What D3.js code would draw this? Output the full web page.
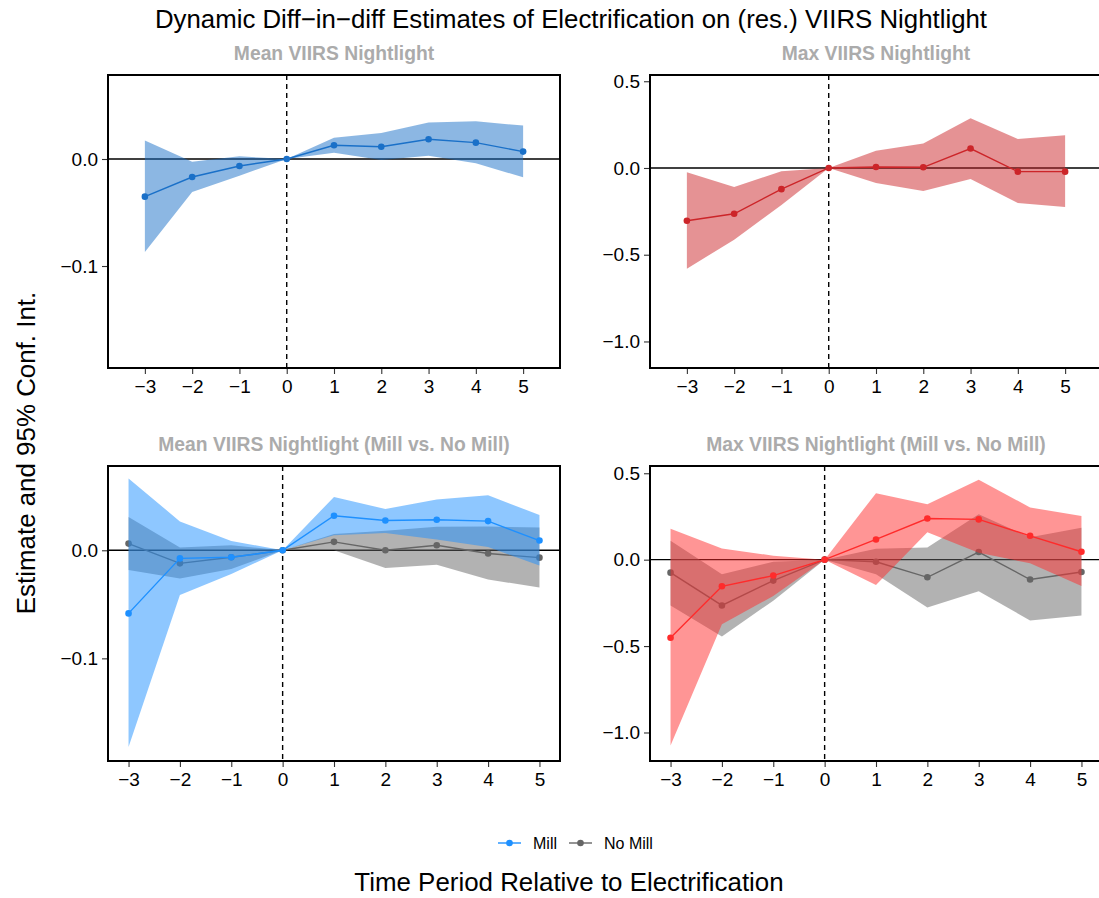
<!DOCTYPE html>
<html>
<head>
<meta charset="utf-8">
<script src="https://cdn.jsdelivr.net/npm/d3@7"></script>
<style>
  html, body { margin: 0; padding: 0; background: #fff; }
  svg { display: block; font-family: "Liberation Sans", Arial, Helvetica, sans-serif; }
</style>
</head>
<body>
<svg id="chart" width="1099" height="898"></svg>
<script>
// Event-time periods relative to electrification
const periods = [-3, -2, -1, 0, 1, 2, 3, 4, 5];

// Mean VIIRS nightlight: estimate and 95% CI
const meanEst = [-0.0352, -0.0168, -0.0065, 0, 0.0128, 0.0115, 0.0184, 0.0153, 0.0069];
const meanLo  = [-0.0869, -0.0308, -0.0156, 0, 0.0059, -0.0009, 0.0031, -0.0040, -0.0171];
const meanHi  = [0.0174, -0.0025, 0.0025, 0, 0.0199, 0.0243, 0.0340, 0.0352, 0.0312];

// Max VIIRS nightlight: estimate and 95% CI
const maxEst = [-0.304, -0.264, -0.122, 0, 0.006, 0.004, 0.112, -0.021, -0.021];
const maxLo  = [-0.581, -0.413, -0.213, 0, -0.087, -0.132, -0.064, -0.202, -0.225];
const maxHi  = [-0.025, -0.109, -0.019, 0, 0.099, 0.141, 0.287, 0.167, 0.188];

// Mean nightlight, mill villages
const millMeanEst = [-0.0584, -0.0075, -0.0065, 0, 0.0320, 0.0276, 0.0283, 0.0270, 0.0090];
const millMeanLo  = [-0.1820, -0.0413, -0.0220, 0, 0.0140, 0.0160, 0.0100, 0.0030, -0.0140];
const millMeanHi  = [0.0665, 0.0267, 0.0087, 0, 0.0494, 0.0382, 0.0470, 0.0510, 0.0326];

// Mean nightlight, no-mill villages
const noMillMeanEst = [0.0062, -0.0121, -0.0065, 0, 0.0078, 0.0000, 0.0047, -0.0030, -0.0068];
const noMillMeanLo  = [-0.0183, -0.0260, -0.0174, 0, 0.0000, -0.0165, -0.0134, -0.0270, -0.0345];
const noMillMeanHi  = [0.0307, 0.0025, 0.0047, 0, 0.0150, 0.0180, 0.0217, 0.0220, 0.0211];

// Max nightlight, mill villages
const millMaxEst = [-0.452, -0.154, -0.092, 0, 0.117, 0.238, 0.233, 0.138, 0.046];
const millMaxLo  = [-1.075, -0.373, -0.210, 0, -0.146, 0.158, 0.040, -0.021, -0.152];
const millMaxHi  = [0.179, 0.065, 0.023, 0, 0.385, 0.321, 0.463, 0.302, 0.252];

// Max nightlight, no-mill villages
const noMillMaxEst = [-0.075, -0.265, -0.121, 0, -0.012, -0.102, 0.044, -0.115, -0.071];
const noMillMaxLo  = [-0.265, -0.444, -0.237, 0, -0.085, -0.277, -0.183, -0.352, -0.323];
const noMillMaxHi  = [0.110, -0.085, -0.012, 0, 0.063, 0.071, 0.263, 0.129, 0.185];

// Tick labels
const xTicks = [-3, -2, -1, 0, 1, 2, 3, 4, 5];
const yTicksMean = [-0.1, 0.0];
const yTicksMax = [-1.0, -0.5, 0.0, 0.5];

const legendLabels = ["Mill", "No Mill"];

const svg = d3.select("#chart");

function series(est, lo, hi) {
  return periods.map((p, i) => ({ x: p, y: est[i], lo: lo[i], hi: hi[i] }));
}

const panels = [
  {
    title: "Mean VIIRS Nightlight",
    box: { left: 108, top: 75, width: 452, height: 293 },
    xDomain: [-3.78, 5.78], yDomain: [-0.1953, 0.0785], yTicks: yTicksMean, yFmt: d3.format(".1f"),
    groups: [{ data: series(meanEst, meanLo, meanHi), color: "#1A70C8" }]
  },
  {
    title: "Max VIIRS Nightlight",
    box: { left: 650, top: 75, width: 452, height: 293 },
    xDomain: [-3.78, 5.78], yDomain: [-1.153, 0.536], yTicks: yTicksMax, yFmt: d3.format(".1f"),
    groups: [{ data: series(maxEst, maxLo, maxHi), color: "#CC2529" }]
  },
  {
    title: "Mean VIIRS Nightlight (Mill vs. No Mill)",
    box: { left: 108, top: 466, width: 452, height: 295 },
    xDomain: [-3.4, 5.4], yDomain: [-0.195, 0.078], yTicks: yTicksMean, yFmt: d3.format(".1f"),
    groups: [
      { data: series(noMillMeanEst, noMillMeanLo, noMillMeanHi), color: "#666666" },
      { data: series(millMeanEst, millMeanLo, millMeanHi), color: "#1E90FF" }
    ]
  },
  {
    title: "Max VIIRS Nightlight (Mill vs. No Mill)",
    box: { left: 650, top: 466, width: 452, height: 295 },
    xDomain: [-3.4, 5.4], yDomain: [-1.165, 0.542], yTicks: yTicksMax, yFmt: d3.format(".1f"),
    groups: [
      { data: series(noMillMaxEst, noMillMaxLo, noMillMaxHi), color: "#666666" },
      { data: series(millMaxEst, millMaxLo, millMaxHi), color: "#FF2B2B" }
    ]
  }
];

panels.forEach((p, idx) => {
  const b = p.box;
  const x = d3.scaleLinear().domain(p.xDomain).range([b.left, b.left + b.width]);
  const y = d3.scaleLinear().domain(p.yDomain).range([b.top + b.height, b.top]);

  const clipId = "clip" + idx;
  svg.append("clipPath").attr("id", clipId)
    .append("rect").attr("x", b.left).attr("y", b.top).attr("width", b.width).attr("height", b.height);

  const g = svg.append("g").attr("clip-path", `url(#${clipId})`);

  // reference lines at zero
  g.append("line")
    .attr("x1", b.left).attr("x2", b.left + b.width)
    .attr("y1", y(0)).attr("y2", y(0))
    .attr("stroke", "#000").attr("stroke-width", 1.4);
  g.append("line")
    .attr("x1", x(0)).attr("x2", x(0))
    .attr("y1", b.top).attr("y2", b.top + b.height)
    .attr("stroke", "#000").attr("stroke-width", 1.4)
    .attr("stroke-dasharray", "5,4");

  const area = d3.area().x(d => x(d.x)).y0(d => y(d.lo)).y1(d => y(d.hi));
  const line = d3.line().x(d => x(d.x)).y(d => y(d.y));

  p.groups.forEach(grp => {
    g.append("path").datum(grp.data)
      .attr("d", area).attr("fill", grp.color).attr("fill-opacity", 0.5);
    g.append("path").datum(grp.data)
      .attr("d", line).attr("fill", "none").attr("stroke", grp.color).attr("stroke-width", 1.4);
    g.selectAll(null).data(grp.data).enter().append("circle")
      .attr("cx", d => x(d.x)).attr("cy", d => y(d.y)).attr("r", 3.3)
      .attr("fill", grp.color);
  });

  // panel border
  svg.append("rect")
    .attr("x", b.left).attr("y", b.top).attr("width", b.width).attr("height", b.height)
    .attr("fill", "none").attr("stroke", "#000").attr("stroke-width", 2);

  // axes
  const xAxis = d3.axisBottom(x).tickValues(xTicks).tickSize(5).tickPadding(6)
    .tickFormat(d3.format("d"));
  const gx = svg.append("g").attr("transform", `translate(0,${b.top + b.height + 1})`).call(xAxis);
  gx.select(".domain").remove();
  gx.selectAll(".tick line").attr("stroke", "#333").attr("stroke-width", 1.1);
  gx.selectAll(".tick text").attr("fill", "#000").style("font-size", "19px");

  const yAxis = d3.axisLeft(y).tickValues(p.yTicks).tickSize(5).tickPadding(4)
    .tickFormat(p.yFmt);
  const gy = svg.append("g").attr("transform", `translate(${b.left - 1},0)`).call(yAxis);
  gy.select(".domain").remove();
  gy.selectAll(".tick line").attr("stroke", "#333").attr("stroke-width", 1.1);
  gy.selectAll(".tick text").attr("fill", "#000").style("font-size", "19px");

  // panel title
  svg.append("text")
    .attr("x", b.left + b.width / 2).attr("y", b.top - 15)
    .attr("text-anchor", "middle")
    .attr("fill", "#ABABAB").attr("font-weight", "bold").style("font-size", "19.3px")
    .text(p.title);
});

// overall title
svg.append("text")
  .attr("x", 571).attr("y", 28)
  .attr("text-anchor", "middle").attr("fill", "#000").style("font-size", "25.8px")
  .text("Dynamic Diff\u2212in\u2212diff Estimates of Electrification on (res.) VIIRS Nightlight");

// axis titles
svg.append("text")
  .attr("x", 569).attr("y", 891)
  .attr("text-anchor", "middle").attr("fill", "#000").style("font-size", "25.9px")
  .text("Time Period Relative to Electrification");

svg.append("text")
  .attr("transform", "translate(35,453) rotate(-90)")
  .attr("text-anchor", "middle").attr("fill", "#000").style("font-size", "25.9px")
  .text("Estimate and 95% Conf. Int.");

// legend
const legendColors = ["#1E90FF", "#666666"];
const legendX = [498, 569];
legendLabels.forEach((lab, i) => {
  const lg = svg.append("g").attr("transform", `translate(${legendX[i]},843)`);
  lg.append("line").attr("x1", 0).attr("x2", 23).attr("y1", 0).attr("y2", 0)
    .attr("stroke", legendColors[i]).attr("stroke-width", 1.4);
  lg.append("circle").attr("cx", 11.5).attr("cy", 0).attr("r", 3.3).attr("fill", legendColors[i]);
  lg.append("text").attr("x", 35).attr("y", 5.8).attr("fill", "#000").style("font-size", "16px").text(lab);
});
</script>
</body>
</html>
